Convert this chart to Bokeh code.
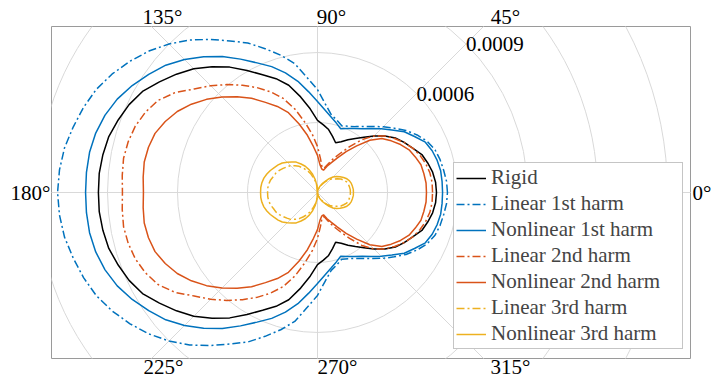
import numpy as np
from bokeh.plotting import figure
from bokeh.models import Legend, LegendItem, Range1d, LinearAxis, FixedTicker
from bokeh.embed import file_html
from bokeh.resources import INLINE

# Sample angles (deg) of the upper half; each pattern is symmetric about 0 deg
ANGLE_DEG = list(range(0, 185, 5))

# Radial amplitudes, in units of AMP_UNIT
AMP_UNIT = 1e-4
RIGID = [5.10, 5.08, 5.01, 4.89, 4.76, 4.50, 4.29, 4.07, 3.77, 3.43, 3.09, 2.83, 2.61,
         2.40, 2.27, 2.49, 2.74, 2.91, 3.09, 3.60, 4.16, 4.76, 5.19, 5.57, 6.04, 6.56,
         7.03, 7.50, 7.89, 8.27, 8.66, 8.91, 9.09, 9.26, 9.34, 9.39, 9.39]
LIN_1ST = [5.57, 5.55, 5.49, 5.44, 5.36, 5.19, 4.93, 4.63, 4.29, 3.99, 3.69, 3.45, 3.26,
           3.13, 3.04, 3.21, 3.39, 3.81, 4.41, 4.93, 5.61, 6.09, 6.56, 7.07, 7.50, 8.01,
           8.53, 9.00, 9.43, 9.81, 10.16, 10.46, 10.67, 10.84, 11.01, 11.10, 11.14]
NONLIN_1ST = [5.36, 5.36, 5.36, 5.31, 5.23, 5.10, 4.80, 4.54, 4.16, 3.86, 3.58, 3.34, 3.17,
              3.03, 2.91, 3.09, 3.30, 3.56, 3.90, 4.33, 4.84, 5.31, 5.74, 6.13, 6.60, 7.11,
              7.59, 8.06, 8.49, 8.83, 9.17, 9.47, 9.69, 9.84, 9.92, 9.94, 9.94]
LIN_2ND = [4.93, 4.93, 4.89, 4.80, 4.67, 4.50, 4.29, 4.03, 3.77, 3.43, 2.96, 2.40, 1.93,
           1.59, 1.29, 1.07, 1.11, 1.46, 1.97, 2.49, 3.04, 3.69, 4.29, 4.76, 5.19, 5.61,
           6.04, 6.47, 6.90, 7.46, 7.89, 8.14, 8.31, 8.40, 8.44, 8.40, 8.36]
NONLIN_2ND = [4.67, 4.67, 4.63, 4.59, 4.46, 4.33, 4.11, 3.86, 3.60, 3.17, 2.61, 2.14, 1.71,
              1.41, 1.20, 0.99, 1.03, 1.20, 1.59, 1.97, 2.49, 3.04, 3.64, 4.07, 4.46, 4.93,
              5.36, 5.79, 6.21, 6.60, 6.94, 7.20, 7.41, 7.50, 7.54, 7.50, 7.46]
LIN_3RD = [1.41, 1.41, 1.39, 1.37, 1.33, 1.24, 1.16, 1.03, 0.90, 0.81, 0.69, 0.56, 0.43,
           0.30, 0.21, 0.17, 0.09, 0.04, 0.00, 0.26, 0.47, 0.64, 0.86, 1.03, 1.20, 1.37,
           1.50, 1.63, 1.71, 1.80, 1.89, 1.97, 2.01, 2.08, 2.12, 2.14, 2.14]
NONLIN_3RD = [1.54, 1.54, 1.52, 1.50, 1.46, 1.39, 1.29, 1.18, 1.07, 0.94, 0.77, 0.60, 0.47,
              0.34, 0.26, 0.17, 0.13, 0.04, 0.00, 0.30, 0.56, 0.81, 1.03, 1.24, 1.41, 1.59,
              1.71, 1.84, 1.97, 2.06, 2.14, 2.23, 2.31, 2.38, 2.42, 2.44, 2.44]

SERIES_NAMES = ["Rigid", "Linear 1st harm", "Nonlinear 1st harm", "Linear 2nd harm",
                "Nonlinear 2nd harm", "Linear 3rd harm", "Nonlinear 3rd harm"]
SERIES_VALUES = [RIGID, LIN_1ST, NONLIN_1ST, LIN_2ND, NONLIN_2ND, LIN_3RD, NONLIN_3RD]

# Polar grid
R_GRID = [0.0003, 0.0006, 0.0009, 0.0012, 0.0015]
R_TICKS = [0.0006, 0.0009]
R_TICK_LABELS = ["0.0006", "0.0009"]
THETA_GRID = [0, 45, 90, 135, 180, 225, 270, 315]
TOP_LABELS = ["135°", "90°", "45°"]
BOTTOM_LABELS = ["225°", "270°", "315°"]
LEFT_LABEL, RIGHT_LABEL = "180°", "0°"

# ---- layout / style -------------------------------------------------------
W, H = 711, 384
FRAME_L, FRAME_R, FRAME_T, FRAME_B = 51, 690, 26, 358
ORIGIN_PX = (317, 192)
PX = 0.0003 / 70.0          # data units per screen pixel (equal aspect)
TOP_LABEL_X = [162, 331, 505]       # screen x of the angle labels above the frame
BOTTOM_LABEL_X = [163, 337, 510]    # ... and below it

BLUE, ORANGE, YELLOW = "#0072BD", "#D95319", "#EDB120"
DASHDOT = "8 3 2 3"
STYLES = [("#000000", "solid"), (BLUE, DASHDOT), (BLUE, "solid"),
          (ORANGE, DASHDOT), (ORANGE, "solid"), (YELLOW, DASHDOT), (YELLOW, "solid")]
FONT = "'Liberation Serif', 'Times New Roman', serif"
FONT_SIZE = "21px"
GRID_COLOR = "#d9d9d9"

ox, oy = ORIGIN_PX
p = figure(frame_width=FRAME_R - FRAME_L, frame_height=FRAME_B - FRAME_T,
           output_backend="svg", toolbar_location=None,
           x_axis_location=None, y_axis_location=None,
           x_range=Range1d((FRAME_L - ox) * PX, (FRAME_R - ox) * PX),
           y_range=Range1d((oy - FRAME_B) * PX, (oy - FRAME_T) * PX),
           min_border_left=FRAME_L, min_border_right=W - FRAME_R,
           min_border_top=FRAME_T, min_border_bottom=H - FRAME_B)
p.grid.visible = False
p.outline_line_color = "#9a9a9a"
p.outline_line_width = 1
p.background_fill_color = "white"
p.border_fill_color = "white"

# circular and radial grid lines
p.circle(x=[0] * len(R_GRID), y=[0] * len(R_GRID), radius=R_GRID,
         fill_color=None, line_color=GRID_COLOR, line_width=1)
p.ray(x=[0] * len(THETA_GRID), y=[0] * len(THETA_GRID), length=0,
      angle=THETA_GRID, angle_units="deg", line_color=GRID_COLOR, line_width=1)

# radial tick labels along the 45 deg spoke
rt = np.array(R_TICKS)
p.text(x=rt * np.cos(np.pi / 4), y=rt * np.sin(np.pi / 4), text=R_TICK_LABELS,
       text_align="left", text_baseline="middle", text_font={"value": FONT},
       text_font_size=FONT_SIZE, text_color="black")

# the patterns, mirrored onto the lower half
ang = np.array(ANGLE_DEG, dtype=float)
full_ang = np.concatenate([ang, 360.0 - ang[::-1][1:]])
items = []
for name, vals, (color, dash) in zip(SERIES_NAMES, SERIES_VALUES, STYLES):
    r = np.array(vals) * AMP_UNIT
    full_r = np.concatenate([r, r[::-1][1:]])
    t = np.deg2rad(full_ang)
    g = p.line(full_r * np.cos(t), full_r * np.sin(t), line_color=color,
               line_width=1.5, line_dash=dash)
    items.append(LegendItem(label=name, renderers=[g]))

legend = Legend(items=items, location=(453 - FRAME_L, FRAME_B - 349),
                margin=0, padding=2, spacing=1, glyph_width=30, glyph_height=20,
                label_height=20, label_width=189, label_standoff=5,
                label_text_font=FONT, label_text_font_size=FONT_SIZE,
                border_line_color="#8c8c8c", border_line_width=1,
                background_fill_color="white", background_fill_alpha=1.0)
p.add_layout(legend)

# angular tick labels around the frame, drawn as bare axes
p.extra_x_ranges = {"px": Range1d(FRAME_L, FRAME_R)}


def label_axis(axis, standoff):
    axis.axis_line_color = None
    axis.major_tick_line_color = None
    axis.minor_tick_line_color = None
    axis.major_tick_in = 0
    axis.major_tick_out = 0
    axis.minor_tick_in = 0
    axis.minor_tick_out = 0
    axis.major_label_text_font = FONT
    axis.major_label_text_font_size = FONT_SIZE
    axis.major_label_text_color = "black"
    axis.major_label_standoff = standoff
    return axis


top = label_axis(LinearAxis(x_range_name="px", ticker=FixedTicker(ticks=TOP_LABEL_X),
                            major_label_overrides=dict(zip(TOP_LABEL_X, TOP_LABELS))), -2)
bottom = label_axis(LinearAxis(x_range_name="px", ticker=FixedTicker(ticks=BOTTOM_LABEL_X),
                               major_label_overrides=dict(zip(BOTTOM_LABEL_X, BOTTOM_LABELS))), -4)
left = label_axis(LinearAxis(ticker=FixedTicker(ticks=[0]),
                             major_label_overrides={0: LEFT_LABEL}), 1)
right = label_axis(LinearAxis(ticker=FixedTicker(ticks=[0]),
                              major_label_overrides={0: RIGHT_LABEL}), 2)
p.add_layout(top, "above")
p.add_layout(bottom, "below")
p.add_layout(left, "left")
p.add_layout(right, "right")

open("out.html", "w").write(file_html(p, INLINE))
